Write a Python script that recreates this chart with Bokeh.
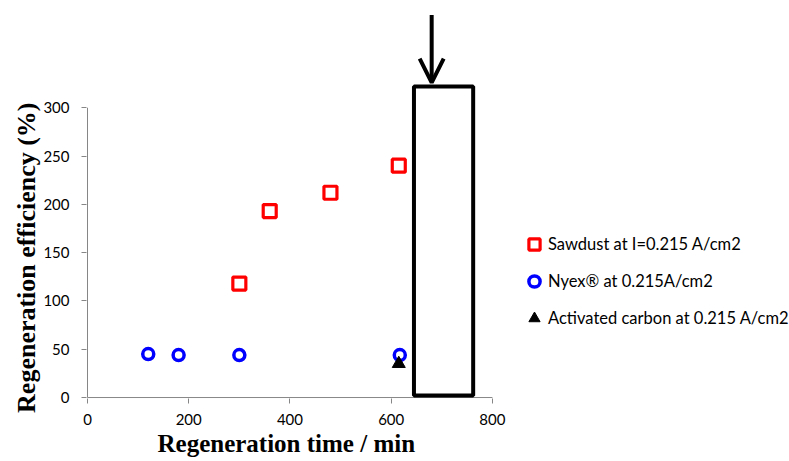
from bokeh.plotting import figure
from bokeh.models import Range1d, FixedTicker, Legend, LegendItem, Arrow, OpenHead, Title
from bokeh.embed import file_html
from bokeh.resources import INLINE

# ---- data ----
sawdust_time = [300, 360, 480, 615]
sawdust_eff = [118, 193, 212, 240]
nyex_time = [120, 180, 300, 617]
nyex_eff = [45, 44, 44, 44]
carbon_time = [615]
carbon_eff = [35]
x_ticks = [0, 200, 400, 600, 800]
y_ticks = [0, 50, 100, 150, 200, 250, 300]
series_labels = ["Sawdust at I=0.215 A/cm2", "Nyex\u00ae at 0.215A/cm2", "Activated carbon at 0.215 A/cm2"]
x_title = "Regeneration time / min"
y_title = "Regeneration efficiency (%)"
box_left, box_right, box_bottom, box_top = 645, 762, 2, 322
arrow_x, arrow_y_start, arrow_y_end = 680, 396, 326

AXIS_GRAY = "#868686"
TICK_FONT = "Lato"
TITLE_FONT = "Liberation Serif"

p = figure(frame_width=703, frame_height=398,
           min_border_left=86, min_border_right=0, min_border_top=0, min_border_bottom=63,
           x_range=Range1d(-2, 1387), y_range=Range1d(-1, 411),
           output_backend="svg", toolbar_location=None)
p.outline_line_color = None
p.xgrid.visible = False
p.ygrid.visible = False
p.background_fill_color = "white"
p.border_fill_color = "white"

for ax in (p.xaxis[0], p.yaxis[0]):
    ax.axis_line_color = None
    ax.major_tick_line_color = AXIS_GRAY
    ax.major_tick_in = 0
    ax.major_tick_out = 5
    ax.minor_tick_line_color = None
    ax.major_label_text_font = TICK_FONT
    ax.major_label_text_font_size = "15px"
    ax.major_label_text_color = "black"

p.xaxis.ticker = FixedTicker(ticks=x_ticks)
p.yaxis.ticker = FixedTicker(ticks=y_ticks)
p.xaxis.major_label_standoff = 10
p.yaxis.major_label_standoff = 12

# axis titles positioned over the tick span (as in the original)
p.add_layout(Title(text=x_title, align="left", offset=71, standoff=0,
                   text_font=TITLE_FONT, text_font_style="bold", text_font_size="25px",
                   text_color="black"), "below")
p.add_layout(Title(text=y_title, align="right", offset=102, standoff=0,
                   text_font=TITLE_FONT, text_font_style="bold", text_font_size="26px",
                   text_color="black"), "left")

# axis lines limited to the tick span
p.segment(x0=[x_ticks[0]], y0=[y_ticks[0]], x1=[x_ticks[-1]], y1=[y_ticks[0]], line_color=AXIS_GRAY, line_width=1)
p.segment(x0=[x_ticks[0]], y0=[y_ticks[0]], x1=[x_ticks[0]], y1=[y_ticks[-1]], line_color=AXIS_GRAY, line_width=1)

# highlight box and arrow
p.quad(left=[box_left], right=[box_right], bottom=[box_bottom], top=[box_top],
       fill_color=None, line_color="black", line_width=4)
p.add_layout(Arrow(x_start=arrow_x, y_start=arrow_y_start, x_end=arrow_x, y_end=arrow_y_end,
                   line_width=4, line_color="black",
                   end=OpenHead(size=24, line_width=4, line_color="black")))

r1 = p.scatter(sawdust_time, sawdust_eff, marker="square", size=13, fill_color=None,
               line_color="#FF0000", line_width=3.2)
r2 = p.scatter(nyex_time, nyex_eff, marker="circle", size=11, fill_color=None,
               line_color="#0000FF", line_width=3.5)
r3 = p.scatter(carbon_time, carbon_eff, marker="triangle", size=13, fill_color="black",
               line_color="black", line_width=1)

legend = Legend(items=[LegendItem(label=series_labels[0], renderers=[r1]),
                       LegendItem(label=series_labels[1], renderers=[r2]),
                       LegendItem(label=series_labels[2], renderers=[r3])],
                location=(434, 66), orientation="vertical",
                glyph_width=28, glyph_height=28, spacing=9, padding=0, margin=0,
                label_standoff=0, label_text_font=TICK_FONT, label_text_font_size="16.5px",
                label_text_color="black", border_line_color=None, background_fill_alpha=0)
p.add_layout(legend)

open("out.html", "w").write(file_html(p, INLINE))
